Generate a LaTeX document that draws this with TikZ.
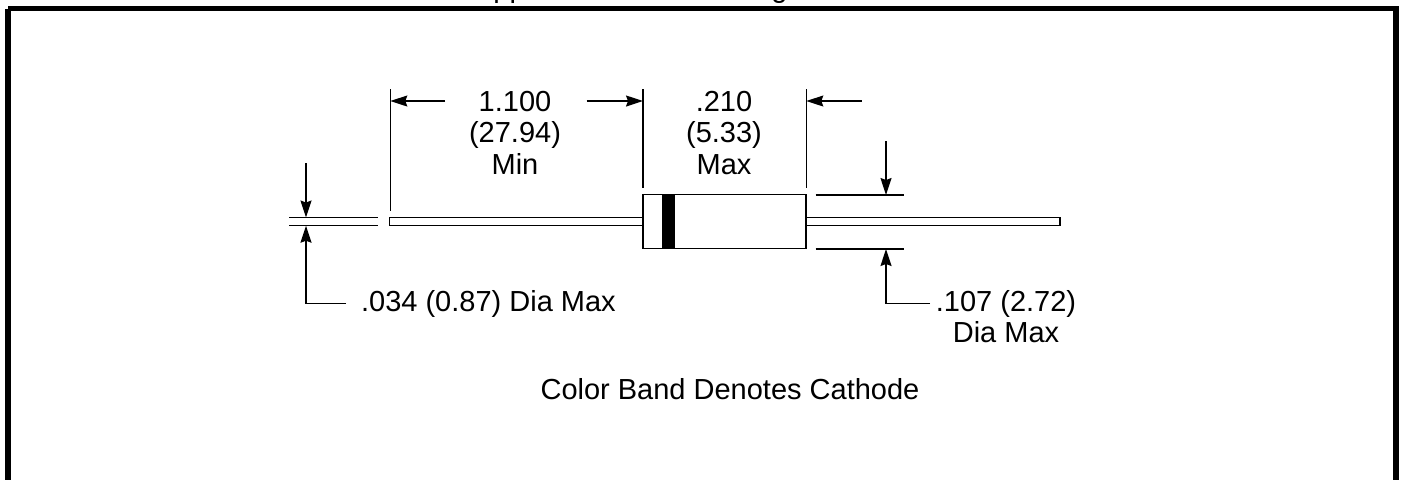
\documentclass[tikz,border=0pt]{standalone}
\usepackage{fontspec}
\setmainfont{Liberation Sans}
\usetikzlibrary{arrows.meta,positioning}

\tikzset{
  dimtext/.style={inner sep=0pt,anchor=base,align=center,font=\fontsize{14.5}{15.75}\selectfont},
  dimline/.style={line width=0.65pt},
  dimarrow/.style={line width=0.65pt,-{Stealth[length=8.5pt,width=5.5pt,inset=1pt]}},
  outline/.style={draw,line width=0.75pt,fill=white,inner sep=0pt,outer sep=0pt,anchor=west}
}

\begin{document}
\begin{tikzpicture}[x=0.5pt,y=-0.5pt]

  \useasboundingbox (0,0) rectangle (1401,479);
  \draw[line width=2.85pt] (8,8.5) -- (1396,8.5) -- (1396,520) (8,520) -- (8,8.5);

  % cut off along the top edge
  \node[dimtext,anchor=base west] (TitleA) at (493,-3) {pp};
  \node[dimtext,anchor=base west] (TitleB) at (771,-3) {g};

  % leads and body
  \node[outline,minimum width=127pt,minimum height=4.1pt] (LeadL) at (389.5,221.6) {};
  \node[outline,minimum width=127pt,minimum height=4.1pt] (LeadR) at (806,221.6) {};
  \node[outline,minimum width=81.5pt,minimum height=27pt] (Body) at (643,221.6) {};
  \node[fill=black,minimum width=6.6pt,minimum height=27pt,inner sep=0pt,outer sep=0pt,anchor=west] (Band) at (661.7,221.6) {};

  % extension lines
  \coordinate (ExtA) at (390.3,89.3);
  \coordinate (ExtB) at (390.3,210.7);
  \coordinate (ExtC) at (643,89.3);
  \coordinate (ExtD) at (643,188.3);
  \coordinate (ExtE) at (806.3,89.3);
  \coordinate (ExtF) at (806.3,188.3);
  \draw[dimline] (ExtA) -- (ExtB) (ExtC) -- (ExtD) (ExtE) -- (ExtF);

  \coordinate (WireTopL) at (289.3,217.5);
  \coordinate (WireTopR) at (378.3,217.5);
  \coordinate (WireBotL) at (289.3,225.7);
  \coordinate (WireBotR) at (378.3,225.7);
  \draw[dimline] (WireTopL) -- (WireTopR) (WireBotL) -- (WireBotR);

  \coordinate (CaseTopL) at (815.7,195);
  \coordinate (CaseTopR) at (904.3,195);
  \coordinate (CaseBotL) at (815.7,249);
  \coordinate (CaseBotR) at (904.3,249);
  \draw[dimline] (CaseTopL) -- (CaseTopR) (CaseBotL) -- (CaseBotR);

  % length labels and arrows
  \node[dimtext] (LenLead) at (515,174.3) {1.100\\(27.94)\\Min};
  \node[dimtext] (LenBody) at (724,174.3) {.210\\(5.33)\\Max};
  \coordinate (ArrA) at (445,101);
  \coordinate (ArrATip) at (390.3,101);
  \coordinate (ArrB) at (586.7,101);
  \coordinate (ArrBTip) at (643,101);
  \coordinate (ArrC) at (861.7,101);
  \coordinate (ArrCTip) at (806.3,101);
  \draw[dimarrow] (ArrA) -- (ArrATip);
  \draw[dimarrow] (ArrB) -- (ArrBTip);
  \draw[dimarrow] (ArrC) -- (ArrCTip);

  % diameter labels and arrows
  \node[dimtext,anchor=base west] (DiaLead) at (360.7,311.7) {.034 (0.87) Dia Max};
  \node[dimtext] (DiaBody) at (1006,342.7) {.107 (2.72)\\Dia Max};
  \node[dimtext] (BandNote) at (730,399) {Color Band Denotes Cathode};

  \coordinate (WireIn) at (306,163.3);
  \coordinate (WireInTip) at (306,217.5);
  \coordinate (WireElbow) at (306,303.3);
  \coordinate (WireOutTip) at (306,225.7);
  \coordinate (WireEnd) at (346,303.3);
  \draw[dimarrow] (WireIn) -- (WireInTip);
  \draw[dimarrow] (WireEnd) -- (WireElbow) -- (WireOutTip);

  \coordinate (CaseIn) at (886,141);
  \coordinate (CaseInTip) at (886,195);
  \coordinate (CaseElbow) at (886,303.3);
  \coordinate (CaseOutTip) at (886,249);
  \coordinate (CaseEnd) at (930,303.3);
  \draw[dimarrow] (CaseIn) -- (CaseInTip);
  \draw[dimarrow] (CaseEnd) -- (CaseElbow) -- (CaseOutTip);

\end{tikzpicture}
\end{document}
